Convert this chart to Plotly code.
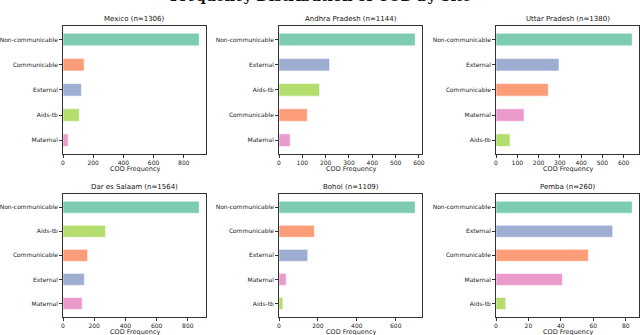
import plotly.graph_objects as go
from plotly.subplots import make_subplots

sites = ["Mexico (n=1306)", "Andhra Pradesh (n=1144)", "Uttar Pradesh (n=1380)",
         "Dar es Salaam (n=1564)", "Bohol (n=1109)", "Pemba (n=260)"]

# categories per site, top to bottom
mexico_cats = ["Non-communicable", "Communicable", "External", "Aids-tb", "Maternal"]
mexico_vals = [902, 140, 122, 108, 34]
andhra_cats = ["Non-communicable", "External", "Aids-tb", "Communicable", "Maternal"]
andhra_vals = [584, 217, 174, 121, 48]
uttar_cats = ["Non-communicable", "External", "Communicable", "Maternal", "Aids-tb"]
uttar_vals = [640, 296, 246, 132, 66]
dar_cats = ["Non-communicable", "Aids-tb", "Communicable", "External", "Maternal"]
dar_vals = [873, 273, 158, 137, 123]
bohol_cats = ["Non-communicable", "Communicable", "External", "Maternal", "Aids-tb"]
bohol_vals = [700, 182, 148, 37, 20]
pemba_cats = ["Non-communicable", "External", "Communicable", "Maternal", "Aids-tb"]
pemba_vals = [84, 72, 57, 41, 6]

tick_steps = [200, 100, 100, 200, 200, 20]

colors = {"Non-communicable": "#66c2a5", "Communicable": "#fc8d62", "External": "#8da0cb",
          "Aids-tb": "#a6d854", "Maternal": "#e78ac3"}

data = [(mexico_cats, mexico_vals), (andhra_cats, andhra_vals), (uttar_cats, uttar_vals),
        (dar_cats, dar_vals), (bohol_cats, bohol_vals), (pemba_cats, pemba_vals)]

W, H = 640, 335
xdoms = [(63, 206), (279, 422), (496, 639)]
ydoms = [(25.7, 154), (194, 316.7)]
xlabel_y = [169, 332]

fig = make_subplots(rows=2, cols=3)
font = "DejaVu Sans"

for i, (cats, vals) in enumerate(data):
    r, c = i // 3 + 1, i % 3 + 1
    fig.add_trace(go.Bar(
        x=vals, y=cats, orientation="h", width=0.5,
        marker=dict(color=[colors[k] for k in cats], opacity=0.85,
                    line=dict(color="white", width=0.6)),
        showlegend=False), row=r, col=c)
    x0, x1 = xdoms[c - 1]
    y0, y1 = ydoms[r - 1]
    fig.update_xaxes(domain=[x0 / W, x1 / W], range=[0, max(vals) * 1.05],
                     dtick=tick_steps[i], tick0=0, showgrid=False, zeroline=False,
                     automargin=False,
                     showline=True, linecolor="#333", linewidth=0.8, mirror=True,
                     ticks="outside", ticklen=3, tickcolor="#333",
                     tickfont=dict(size=6, color="#222", family=font),
                     row=r, col=c)
    fig.update_yaxes(domain=[1 - y1 / H, 1 - y0 / H], range=[4.55, -0.55],
                     showgrid=False, zeroline=False, automargin=False,
                     showline=True, linecolor="#333", linewidth=0.8, mirror=True,
                     ticks="outside", ticklen=3, tickcolor="#333",
                     tickfont=dict(size=6, color="#222", family=font),
                     row=r, col=c)
    fig.add_annotation(text=sites[i], x=(x0 + x1) / 2 / W, y=1 - (y0 - 1) / H,
                       xref="paper", yref="paper", xanchor="center", yanchor="bottom",
                       showarrow=False, font=dict(size=7, color="#111", family=font))
    fig.add_annotation(text="COD Frequency", x=(x0 + x1) / 2 / W, y=1 - xlabel_y[r - 1] / H,
                       xref="paper", yref="paper", xanchor="center", yanchor="middle",
                       showarrow=False, font=dict(size=6.5, color="#222", family=font))

fig.add_annotation(text="<b>Frequency Distribution of COD by Site</b>", x=0.5, y=1 - 6 / H,
                   xref="paper", yref="paper", xanchor="center", yanchor="bottom",
                   showarrow=False, font=dict(size=14, color="#111", family="DejaVu Serif"))

fig.update_layout(width=W, height=H, margin=dict(l=0, r=0, t=0, b=0),
                  plot_bgcolor="white", paper_bgcolor="white", bargap=0.5)

fig.write_html("out.html", config={"displayModeBar": False},
               post_script="document.body.style.margin='0px';")
